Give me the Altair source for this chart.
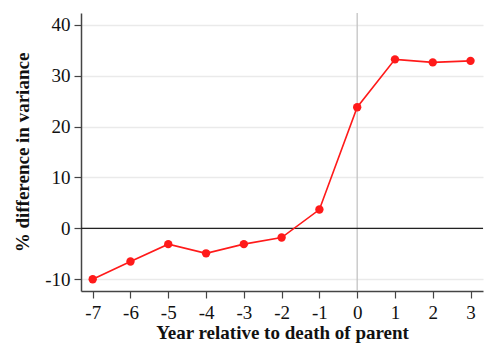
import altair as alt
import pandas as pd

years = [-7, -6, -5, -4, -3, -2, -1, 0, 1, 2, 3]
values = [-10.0, -6.5, -3.1, -4.9, -3.1, -1.8, 3.7, 23.8, 33.2, 32.6, 32.9]
y_ticks = [-10, 0, 10, 20, 30, 40]

df = pd.DataFrame({"year": years, "value": values})

FONT = "Liberation Serif, Times New Roman, serif"

x_enc = alt.X("year:Q",
              scale=alt.Scale(domain=[-7.31, 3.33], nice=False, zero=False),
              axis=alt.Axis(values=years, title="Year relative to death of parent",
                            grid=False, labelExpr="'' + datum.value"))
y_enc = alt.Y("value:Q",
              scale=alt.Scale(domain=[-12.3, 42.3], nice=False, zero=False),
              axis=alt.Axis(values=y_ticks, title="% difference in variance",
                            grid=True, labelExpr="'' + datum.value"))

base = alt.Chart(df)

line = base.mark_line(color="#ff1a1a", strokeWidth=1.6).encode(x=x_enc, y=y_enc)
pts = base.mark_circle(color="#ff1a1a", size=70, opacity=1).encode(x="year:Q", y="value:Q")

zero_h = alt.Chart(pd.DataFrame({"v": [0]})).mark_rule(color="#222222", strokeWidth=1.2).encode(y="v:Q")
zero_v = alt.Chart(pd.DataFrame({"v": [0]})).mark_rule(color="#c4c4c4", strokeWidth=1.3).encode(x="v:Q")

chart = alt.layer(zero_v, zero_h, line, pts).properties(
    width=402, height=278,
    autosize=alt.AutoSizeParams(type="none"),
    padding={"left": 73, "top": 5, "right": 5, "bottom": 61},
).configure_view(stroke=None).configure_axis(
    labelFont=FONT, titleFont=FONT,
    labelFontSize=19, titleFontSize=19, titleFontWeight="bold",
    labelColor="#111111", titleColor="#111111",
    domainColor="#444444", tickColor="#444444", domainWidth=1.5, tickWidth=1.2,
    tickSize=7, labelPadding=4,
    gridColor="#eaeaea", gridWidth=1.5,
).configure_axisX(titlePadding=1, labelPadding=5).configure_axisY(titlePadding=12)

chart.save("out.html", embed_options={"renderer": "svg", "actions": False})
